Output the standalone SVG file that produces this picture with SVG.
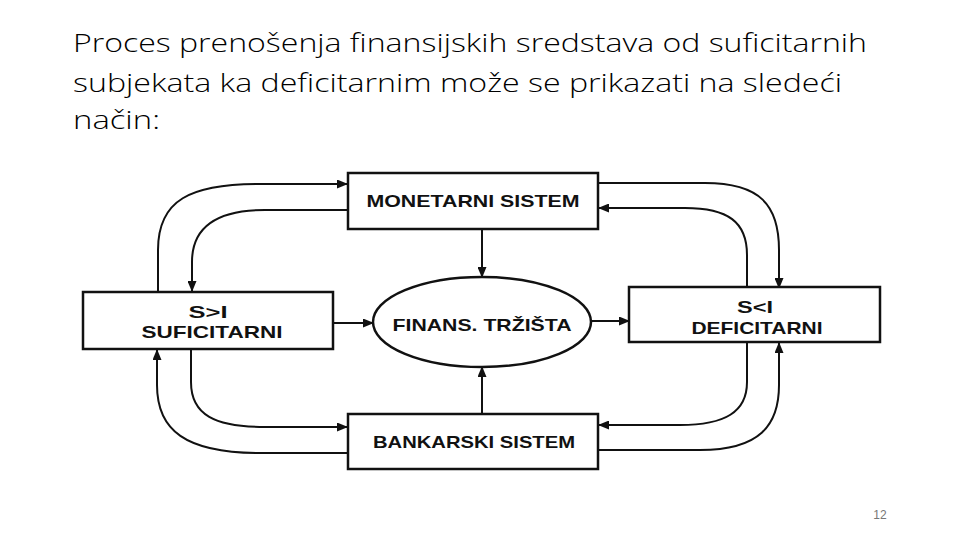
<svg xmlns="http://www.w3.org/2000/svg" width="960" height="540" viewBox="0 0 960 540">
  <style>
    .title { font-family: "Open Sans", "Liberation Sans", sans-serif; font-weight: 300; font-size: 26px; fill: #000; }
    .lbl { font-family: "Liberation Sans", Arial, sans-serif; font-weight: bold; font-size: 17px; fill: #111; text-anchor: middle; }
    .box { fill: #fff; stroke: #111; stroke-width: 2.5; }
    .con { fill: none; stroke: #111; stroke-width: 2; }
    .pg { font-family: "Liberation Sans", Arial, sans-serif; font-size: 12px; fill: #777; text-anchor: middle; }
  </style>
  <defs>
    <marker id="arr" markerUnits="userSpaceOnUse" markerWidth="11" markerHeight="9" refX="10" refY="4.5" orient="auto">
      <path d="M0,0 L11,4.5 L0,9 z" fill="#111"/>
    </marker>
  </defs>
  <rect width="960" height="540" fill="#fff"/>

  <g id="title">
    <text class="title" x="73" y="52" textLength="794" lengthAdjust="spacingAndGlyphs">Proces prenošenja finansijskih sredstava od suficitarnih</text>
    <text class="title" x="73" y="92" textLength="769" lengthAdjust="spacingAndGlyphs">subjekata ka deficitarnim može se prikazati na sledeći</text>
    <text class="title" x="73" y="129" textLength="87" lengthAdjust="spacingAndGlyphs">način:</text>
  </g>

  <g id="connectors">
    <path class="con" marker-end="url(#arr)" d="M158,292 L158,250 C158,200 190,184 260,184 L347,184"/>
    <path class="con" marker-end="url(#arr)" d="M348,210 L265,210 C215,210 192,228 192,262 L192,291"/>
    <path class="con" marker-end="url(#arr)" d="M598,183 L705,183 C760,183 779,205 779,250 L779,288"/>
    <path class="con" marker-end="url(#arr)" d="M747,287 L747,255 C747,222 728,208 685,208 L599,208"/>
    <path class="con" marker-end="url(#arr)" d="M191,349 L191,382 C191,415 215,427 265,427 L347,427"/>
    <path class="con" marker-end="url(#arr)" d="M347,453 L260,453 C185,453 157,430 157,385 L157,350"/>
    <path class="con" marker-end="url(#arr)" d="M747,342 L747,382 C747,412 725,425 680,425 L599,425"/>
    <path class="con" marker-end="url(#arr)" d="M599,450 L700,450 C760,450 779,425 779,385 L779,343"/>
    <path class="con" marker-end="url(#arr)" d="M482,229 L482,277"/>
    <path class="con" marker-end="url(#arr)" d="M482,414 L482,367"/>
    <path class="con" marker-end="url(#arr)" d="M333,323 L373,323"/>
    <path class="con" marker-end="url(#arr)" d="M591,321 L629,321"/>
  </g>

  <g id="monetarni">
    <rect class="box" x="348" y="173" width="250" height="56"/>
    <text class="lbl" x="473" y="207" textLength="213" lengthAdjust="spacingAndGlyphs">MONETARNI SISTEM</text>
  </g>
  <g id="suficitarni">
    <rect class="box" x="83" y="292" width="250" height="57"/>
    <text class="lbl" x="208" y="318" textLength="39" lengthAdjust="spacingAndGlyphs">S&gt;I</text>
    <text class="lbl" x="212" y="338" textLength="141" lengthAdjust="spacingAndGlyphs">SUFICITARNI</text>
  </g>
  <g id="finans">
    <ellipse class="box" cx="482" cy="322" rx="109" ry="45"/>
    <text class="lbl" x="482" y="331" textLength="179" lengthAdjust="spacingAndGlyphs">FINANS. TRŽIŠTA</text>
  </g>
  <g id="deficitarni">
    <rect class="box" x="629" y="287" width="251" height="55"/>
    <text class="lbl" x="755" y="313" textLength="36" lengthAdjust="spacingAndGlyphs">S&lt;I</text>
    <text class="lbl" x="757" y="334" textLength="131" lengthAdjust="spacingAndGlyphs">DEFICITARNI</text>
  </g>
  <g id="bankarski">
    <rect class="box" x="348" y="414" width="250" height="55"/>
    <text class="lbl" x="474" y="448" textLength="202" lengthAdjust="spacingAndGlyphs">BANKARSKI SISTEM</text>
  </g>

  <text class="pg" x="880" y="519">12</text>
</svg>
